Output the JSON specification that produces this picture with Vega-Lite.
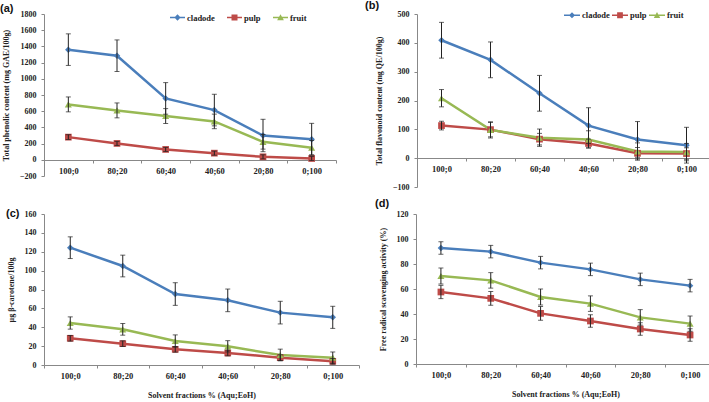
{
  "$schema": "https://vega.github.io/schema/vega-lite/v6.json",
  "padding": 0,
  "background": "white",
  "datasets": {
    "a": [
      {"s": "cladode", "x": "100;0", "v": 1360, "e": 195},
      {"s": "cladode", "x": "80;20", "v": 1285, "e": 195},
      {"s": "cladode", "x": "60;40", "v": 758, "e": 195},
      {"s": "cladode", "x": "40;60", "v": 614, "e": 195},
      {"s": "cladode", "x": "20;80", "v": 300, "e": 200},
      {"s": "cladode", "x": "0;100", "v": 255, "e": 195},
      {"s": "pulp", "x": "100;0", "v": 280, "e": 30},
      {"s": "pulp", "x": "80;20", "v": 202, "e": 25},
      {"s": "pulp", "x": "60;40", "v": 128, "e": 25},
      {"s": "pulp", "x": "40;60", "v": 82, "e": 25},
      {"s": "pulp", "x": "20;80", "v": 37, "e": 25},
      {"s": "pulp", "x": "0;100", "v": 16, "e": 25},
      {"s": "fruit", "x": "100;0", "v": 684, "e": 92},
      {"s": "fruit", "x": "80;20", "v": 610, "e": 92},
      {"s": "fruit", "x": "60;40", "v": 540, "e": 92},
      {"s": "fruit", "x": "40;60", "v": 474, "e": 90},
      {"s": "fruit", "x": "20;80", "v": 222, "e": 90},
      {"s": "fruit", "x": "0;100", "v": 148, "e": 90}
    ],
    "b": [
      {"s": "cladode", "x": "100;0", "v": 409, "e": 62},
      {"s": "cladode", "x": "80;20", "v": 341, "e": 62},
      {"s": "cladode", "x": "60;40", "v": 225, "e": 62},
      {"s": "cladode", "x": "40;60", "v": 113, "e": 62},
      {"s": "cladode", "x": "20;80", "v": 65, "e": 62},
      {"s": "cladode", "x": "0;100", "v": 45, "e": 62},
      {"s": "pulp", "x": "100;0", "v": 113, "e": 15},
      {"s": "pulp", "x": "80;20", "v": 99, "e": 25},
      {"s": "pulp", "x": "60;40", "v": 66, "e": 20},
      {"s": "pulp", "x": "40;60", "v": 51, "e": 15},
      {"s": "pulp", "x": "20;80", "v": 17, "e": 20},
      {"s": "pulp", "x": "0;100", "v": 16, "e": 20},
      {"s": "fruit", "x": "100;0", "v": 208, "e": 30},
      {"s": "fruit", "x": "80;20", "v": 98, "e": 28},
      {"s": "fruit", "x": "60;40", "v": 71, "e": 30},
      {"s": "fruit", "x": "40;60", "v": 65, "e": 30},
      {"s": "fruit", "x": "20;80", "v": 23, "e": 30},
      {"s": "fruit", "x": "0;100", "v": 21, "e": 30}
    ],
    "c": [
      {"s": "cladode", "x": "100;0", "v": 124.3, "e": 11.5},
      {"s": "cladode", "x": "80;20", "v": 104.9, "e": 11.5},
      {"s": "cladode", "x": "60;40", "v": 75.2, "e": 12},
      {"s": "cladode", "x": "40;60", "v": 68.5, "e": 12},
      {"s": "cladode", "x": "20;80", "v": 55.5, "e": 12},
      {"s": "cladode", "x": "0;100", "v": 50.5, "e": 11.7},
      {"s": "pulp", "x": "100;0", "v": 28.3, "e": 3},
      {"s": "pulp", "x": "80;20", "v": 22.6, "e": 3},
      {"s": "pulp", "x": "60;40", "v": 16.6, "e": 3},
      {"s": "pulp", "x": "40;60", "v": 12.7, "e": 3},
      {"s": "pulp", "x": "20;80", "v": 7.8, "e": 3},
      {"s": "pulp", "x": "0;100", "v": 3.9, "e": 3},
      {"s": "fruit", "x": "100;0", "v": 44.5, "e": 6.5},
      {"s": "fruit", "x": "80;20", "v": 37.8, "e": 6.2},
      {"s": "fruit", "x": "60;40", "v": 25.4, "e": 6.5},
      {"s": "fruit", "x": "40;60", "v": 19.8, "e": 6},
      {"s": "fruit", "x": "20;80", "v": 10.6, "e": 6.2},
      {"s": "fruit", "x": "0;100", "v": 7.8, "e": 6}
    ],
    "d": [
      {"s": "cladode", "x": "100;0", "v": 92.8, "e": 5},
      {"s": "cladode", "x": "80;20", "v": 89.9, "e": 5},
      {"s": "cladode", "x": "60;40", "v": 81.1, "e": 5},
      {"s": "cladode", "x": "40;60", "v": 75.7, "e": 5},
      {"s": "cladode", "x": "20;80", "v": 67.7, "e": 5},
      {"s": "cladode", "x": "0;100", "v": 62.7, "e": 5},
      {"s": "pulp", "x": "100;0", "v": 57.6, "e": 5.3},
      {"s": "pulp", "x": "80;20", "v": 52.5, "e": 5.5},
      {"s": "pulp", "x": "60;40", "v": 40.5, "e": 5.5},
      {"s": "pulp", "x": "40;60", "v": 34.4, "e": 5},
      {"s": "pulp", "x": "20;80", "v": 28, "e": 5},
      {"s": "pulp", "x": "0;100", "v": 23.2, "e": 5},
      {"s": "fruit", "x": "100;0", "v": 70.4, "e": 6.4},
      {"s": "fruit", "x": "80;20", "v": 66.9, "e": 6.2},
      {"s": "fruit", "x": "60;40", "v": 53.6, "e": 6.4},
      {"s": "fruit", "x": "40;60", "v": 48.3, "e": 6.2},
      {"s": "fruit", "x": "20;80", "v": 37.3, "e": 6.2},
      {"s": "fruit", "x": "0;100", "v": 32.3, "e": 6.1}
    ]
  },
  "resolve": {"scale": {"color": "independent", "shape": "independent"}, "legend": {"color": "independent", "shape": "independent"}},
  "spacing": 7,
  "vconcat": [
    {
      "resolve": {"scale": {"color": "independent", "shape": "independent"}, "legend": {"color": "independent", "shape": "independent"}},
      "spacing": 28,
      "hconcat": [
        {
          "width": 292, "height": 162,
          "title": {"text": "(a)", "dx": -44, "offset": -4},
          "data": {"name": "a"},
          "encoding": {
            "x": {"field": "x", "type": "nominal", "sort": ["100;0","80;20","60;40","40;60","20;80","0;100"], "scale": {"type": "band", "paddingInner": 0, "paddingOuter": 0}, "axis": {"title": null, "offset": -16}},
            "y": {"field": "v", "type": "quantitative", "scale": {"domain": [-200, 1800], "nice": false, "zero": false}, "axis": {"values": [-200,0,200,400,600,800,1000,1200,1400,1600,1800], "format": "d", "labelOverlap": false, "title": "Total phenolic content (mg GAE/100g)"}}
          },
          "layer": [
            {"mark": {"type": "line", "strokeWidth": 2.5},
             "encoding": {"color": {"field": "s", "type": "nominal", "scale": {"domain": ["cladode","pulp","fruit"], "range": ["#4a7ebb","#be4b48","#98b954"]},
                                    "legend": {"orient": "none", "legendX": 126, "legendY": -4, "direction": "horizontal", "columnPadding": 12, "title": null, "symbolSize": 225, "symbolOpacity": 1, "symbolStrokeWidth": 0}}}},
            {"mark": {"type": "point", "filled": true, "opacity": 0, "size": 45},
             "encoding": {"color": {"field": "s", "type": "nominal", "scale": {"domain": ["cladode","pulp","fruit"], "range": ["#4a7ebb","#be4b48","#98b954"]}},
                          "shape": {"field": "s", "type": "nominal", "scale": {"domain": ["cladode","pulp","fruit"], "range": ["M-1,-0.09H1V0.09H-1ZM0,-0.42L0.42,0L0,0.42L-0.42,0Z","M-1,-0.09H1V0.09H-1ZM-0.4,-0.4H0.4V0.4H-0.4Z","M-1,-0.09H1V0.09H-1ZM0,-0.45L0.45,0.38L-0.45,0.38Z"]}, "legend": null}}},
            {"transform": [{"filter": "datum.s === 'cladode'"}], "mark": {"type": "point", "filled": true, "opacity": 1, "size": 42, "shape": "diamond", "color": "#4a7ebb"}},
            {"transform": [{"filter": "datum.s === 'pulp'"}], "mark": {"type": "point", "filled": true, "opacity": 1, "size": 45, "shape": "square", "color": "#be4b48"}},
            {"transform": [{"filter": "datum.s === 'fruit'"}], "mark": {"type": "point", "filled": true, "opacity": 1, "size": 50, "shape": "triangle-up", "color": "#98b954"}},
            {"mark": {"type": "errorbar", "ticks": {"size": 5, "color": "#222", "strokeWidth": 1}, "color": "#222", "thickness": 1},
             "encoding": {"yError": {"field": "e"}}}
          ]
        },
        {
          "width": 294, "height": 173,
          "title": {"text": "(b)", "dx": -52, "offset": -4},
          "data": {"name": "b"},
          "encoding": {
            "x": {"field": "x", "type": "nominal", "sort": ["100;0","80;20","60;40","40;60","20;80","0;100"], "scale": {"type": "band", "paddingInner": 0, "paddingOuter": 0}, "axis": {"title": null, "offset": -29}},
            "y": {"field": "v", "type": "quantitative", "scale": {"domain": [-100, 500], "nice": false, "zero": false}, "axis": {"values": [-100,0,100,200,300,400,500], "format": "d", "labelOverlap": false, "title": "Total flavonoid content (mg QE/100g)"}}
          },
          "layer": [
            {"mark": {"type": "line", "strokeWidth": 2.5},
             "encoding": {"color": {"field": "s", "type": "nominal", "scale": {"domain": ["cladode","pulp","fruit"], "range": ["#4a7ebb","#be4b48","#98b954"]},
                                    "legend": {"orient": "none", "legendX": 147, "legendY": -7, "direction": "horizontal", "columnPadding": 2, "title": null, "symbolSize": 256, "symbolOpacity": 1, "symbolStrokeWidth": 0}}}},
            {"mark": {"type": "point", "filled": true, "opacity": 0, "size": 45},
             "encoding": {"color": {"field": "s", "type": "nominal", "scale": {"domain": ["cladode","pulp","fruit"], "range": ["#4a7ebb","#be4b48","#98b954"]}},
                          "shape": {"field": "s", "type": "nominal", "scale": {"domain": ["cladode","pulp","fruit"], "range": ["M-1,-0.08H1V0.08H-1ZM0,-0.38L0.38,0L0,0.38L-0.38,0Z","M-1,-0.08H1V0.08H-1ZM-0.36,-0.36H0.36V0.36H-0.36Z","M-1,-0.08H1V0.08H-1ZM0,-0.4L0.4,0.34L-0.4,0.34Z"]}, "legend": null}}},
            {"transform": [{"filter": "datum.s === 'cladode'"}], "mark": {"type": "point", "filled": true, "opacity": 1, "size": 42, "shape": "diamond", "color": "#4a7ebb"}},
            {"transform": [{"filter": "datum.s === 'pulp'"}], "mark": {"type": "point", "filled": true, "opacity": 1, "size": 45, "shape": "square", "color": "#be4b48"}},
            {"transform": [{"filter": "datum.s === 'fruit'"}], "mark": {"type": "point", "filled": true, "opacity": 1, "size": 50, "shape": "triangle-up", "color": "#98b954"}},
            {"mark": {"type": "errorbar", "ticks": {"size": 5, "color": "#222", "strokeWidth": 1}, "color": "#222", "thickness": 1},
             "encoding": {"yError": {"field": "e"}}}
          ]
        }
      ]
    },
    {
      "resolve": {"scale": {"color": "independent", "shape": "independent"}, "legend": {"color": "independent", "shape": "independent"}},
      "spacing": 15,
      "hconcat": [
        {
          "width": 315, "height": 151,
          "title": {"text": "(c)", "dx": -38, "offset": -9},
          "data": {"name": "c"},
          "encoding": {
            "x": {"field": "x", "type": "nominal", "sort": ["100;0","80;20","60;40","40;60","20;80","0;100"], "scale": {"type": "band", "paddingInner": 0, "paddingOuter": 0}, "axis": {"title": "Solvent fractions % (Aqu;EoH)"}},
            "y": {"field": "v", "type": "quantitative", "scale": {"domain": [0, 160], "nice": false}, "axis": {"values": [0,20,40,60,80,100,120,140,160], "format": "d", "labelOverlap": false, "title": "µg β-carotene/100g"}}
          },
          "layer": [
            {"mark": {"type": "line", "strokeWidth": 2.5},
             "encoding": {"color": {"field": "s", "type": "nominal", "scale": {"domain": ["cladode","pulp","fruit"], "range": ["#4a7ebb","#be4b48","#98b954"]}, "legend": null}}},
            {"transform": [{"filter": "datum.s === 'cladode'"}], "mark": {"type": "point", "filled": true, "opacity": 1, "size": 42, "shape": "diamond", "color": "#4a7ebb"}},
            {"transform": [{"filter": "datum.s === 'pulp'"}], "mark": {"type": "point", "filled": true, "opacity": 1, "size": 45, "shape": "square", "color": "#be4b48"}},
            {"transform": [{"filter": "datum.s === 'fruit'"}], "mark": {"type": "point", "filled": true, "opacity": 1, "size": 50, "shape": "triangle-up", "color": "#98b954"}},
            {"mark": {"type": "errorbar", "ticks": {"size": 5, "color": "#222", "strokeWidth": 1}, "color": "#222", "thickness": 1},
             "encoding": {"yError": {"field": "e"}}}
          ]
        },
        {
          "width": 299, "height": 150,
          "title": {"text": "(d)", "dx": -41, "offset": 1},
          "data": {"name": "d"},
          "encoding": {
            "x": {"field": "x", "type": "nominal", "sort": ["100;0","80;20","60;40","40;60","20;80","0;100"], "scale": {"type": "band", "paddingInner": 0, "paddingOuter": 0}, "axis": {"title": "Solvent fractions % (Aqu;EoH)"}},
            "y": {"field": "v", "type": "quantitative", "scale": {"domain": [0, 120], "nice": false}, "axis": {"values": [0,20,40,60,80,100,120], "format": "d", "labelOverlap": false, "title": "Free radical scavenging activity (%)"}}
          },
          "layer": [
            {"mark": {"type": "line", "strokeWidth": 2.5},
             "encoding": {"color": {"field": "s", "type": "nominal", "scale": {"domain": ["cladode","pulp","fruit"], "range": ["#4a7ebb","#be4b48","#98b954"]}, "legend": null}}},
            {"transform": [{"filter": "datum.s === 'cladode'"}], "mark": {"type": "point", "filled": true, "opacity": 1, "size": 42, "shape": "diamond", "color": "#4a7ebb"}},
            {"transform": [{"filter": "datum.s === 'pulp'"}], "mark": {"type": "point", "filled": true, "opacity": 1, "size": 45, "shape": "square", "color": "#be4b48"}},
            {"transform": [{"filter": "datum.s === 'fruit'"}], "mark": {"type": "point", "filled": true, "opacity": 1, "size": 50, "shape": "triangle-up", "color": "#98b954"}},
            {"mark": {"type": "errorbar", "ticks": {"size": 5, "color": "#222", "strokeWidth": 1}, "color": "#222", "thickness": 1},
             "encoding": {"yError": {"field": "e"}}}
          ]
        }
      ]
    }
  ],
  "config": {
    "view": {"stroke": null},
    "title": {"font": "Liberation Sans", "fontSize": 11, "fontWeight": "bold", "anchor": "start", "frame": "group", "color": "#111"},
    "axis": {"labelFont": "Liberation Serif", "labelFontWeight": "bold", "labelFontSize": 8, "labelColor": "#222", "domainColor": "#888", "tickColor": "#888", "tickSize": 3, "grid": false,
             "titleFont": "Liberation Serif", "titleFontWeight": "bold", "titleFontSize": 8, "titleColor": "#222", "labelOverlap": false, "labelFlush": false},
    "axisX": {"tickBand": "extent", "labelAngle": 0, "labelPadding": 3, "titlePadding": 12, "labelFontSize": 8.5},
    "axisY": {"labelPadding": 5, "titlePadding": 9},
    "legend": {"labelFont": "Liberation Serif", "labelFontWeight": "bold", "labelFontSize": 8.5, "labelColor": "#222", "padding": 0, "labelOffset": 2}
  }
}
